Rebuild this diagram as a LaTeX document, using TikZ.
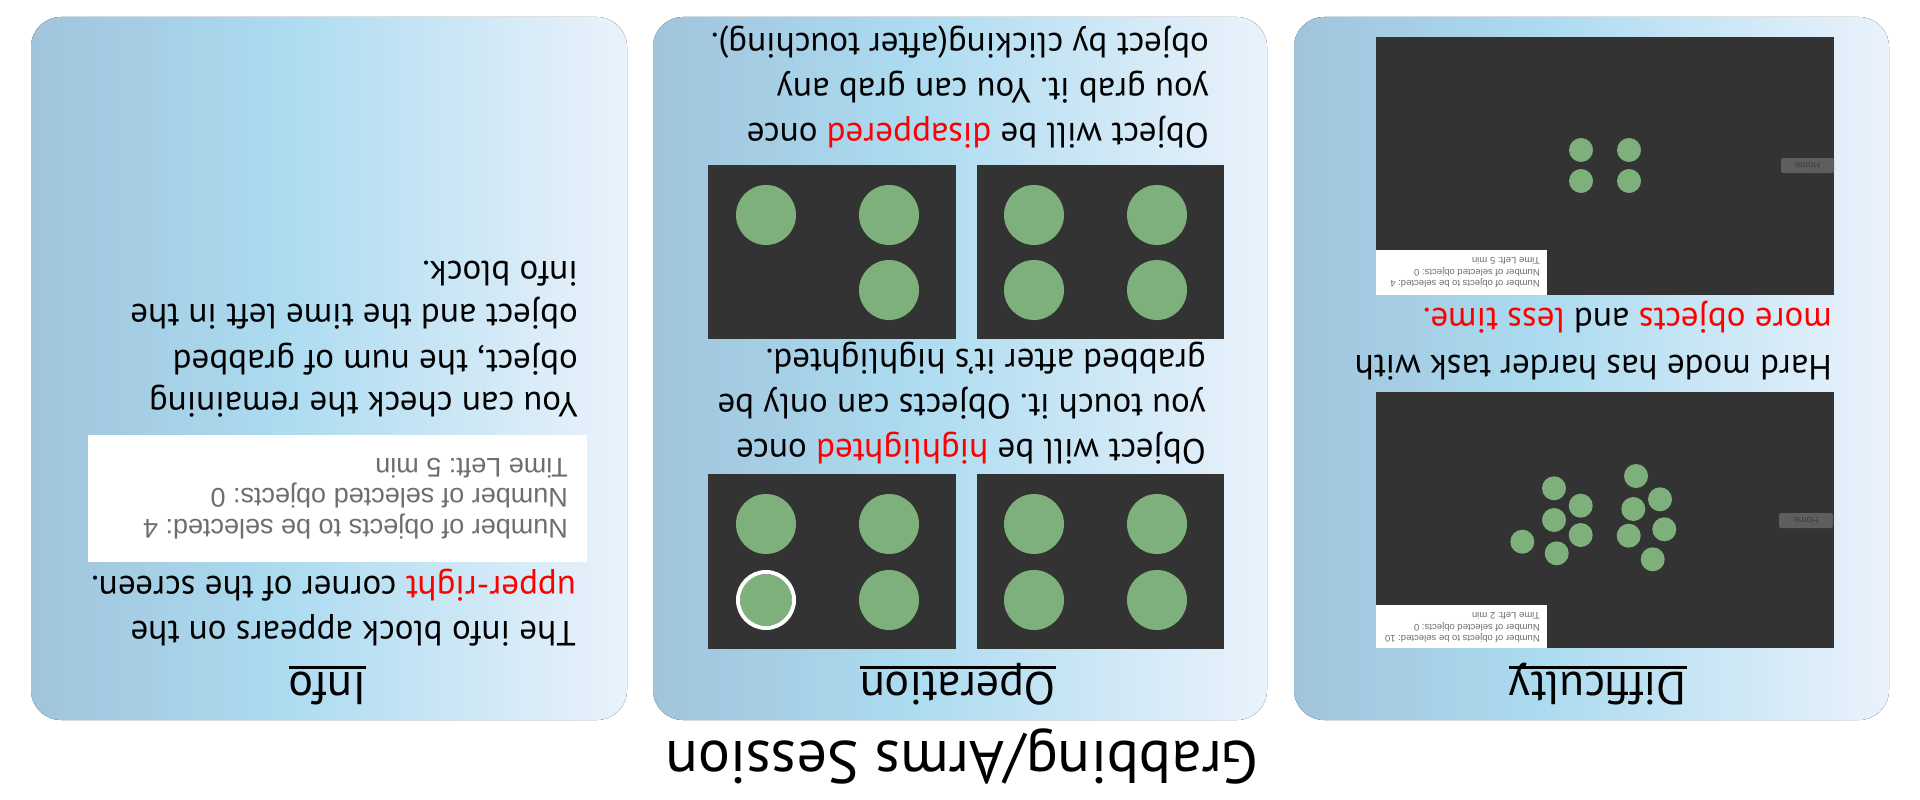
\documentclass[tikz,border=0pt]{standalone}
\usepackage{fontspec}
\setmainfont{PT Sans}
\newfontfamily\uifont{Liberation Sans}
\frenchspacing

\definecolor{panelL}{HTML}{A0C4DC}
\definecolor{panelM}{HTML}{ACDBF0}
\definecolor{panelR}{HTML}{EAF2FB}
\definecolor{scrgrey}{HTML}{333333}
\definecolor{dotgreen}{HTML}{7DB07A}
\definecolor{infogrey}{HTML}{6E6E6E}
\definecolor{btngrey}{HTML}{5E5E5E}
\definecolor{hl}{HTML}{FF0000}

\pgfdeclarehorizontalshading{panelshade}{100bp}{color(0bp)=(panelL); color(25bp)=(panelL); color(46bp)=(panelM); color(75bp)=(panelR); color(100bp)=(panelR)}

\begin{document}
\begin{tikzpicture}[x=1pt,y=-1pt]

\tikzset{panel/.style = {rounded corners=30pt, shading=panelshade}}
\tikzset{screen/.style = {fill=scrgrey}}
\tikzset{disc/.style = {fill=dotgreen}}
\tikzset{infobox/.style = {fill=white}}
\tikzset{homebtn/.style = {fill=btngrey, rounded corners=2pt}}
\tikzset{textline/.style = {rotate=180, anchor=base west, inner sep=0pt, font=\fontsize{35}{42}\selectfont}}
\tikzset{panelhead/.style = {rotate=180, anchor=base, inner sep=0pt, font=\fontsize{46}{55}\selectfont}}
\tikzset{uline/.style = {line width=2.5pt}}
\tikzset{infotext/.style = {rotate=180, anchor=base west, inner sep=0pt, text=infogrey, font=\uifont\fontsize{27}{32}\selectfont}}
\tikzset{smalltext/.style = {infotext, font=\uifont\fontsize{9.5}{11}\selectfont}}
\tikzset{hometext/.style = {rotate=180, inner sep=0pt, text=black!75, font=\uifont\fontsize{9.5}{11}\selectfont}}

\fill[white] (0,0) rectangle (1920,800);
\useasboundingbox (0,0) rectangle (1920,800);

% panels
\fill[panel] (31,17) rectangle (627,720);
\fill[panel] (653,17) rectangle (1267,720);
\fill[panel] (1294,17) rectangle (1889,720);

% title
\node[rotate=180, anchor=base, inner sep=0pt, font=\fontsize{60}{72}\selectfont] (title) at (962,741) {Grabbing/Arms Session};

% info panel
\node[panelhead] (infohead) at (327.6,672) {Info};
\draw[uline] ([yshift=4.5pt]infohead.base west) -- ([yshift=4.5pt]infohead.base east);
\node[textline] (info1) at (576,621.5) {The info block appears on the};
\node[textline] (info2) at (576,576.5) {\textcolor{hl}{upper-right} corner of the screen.};
\fill[infobox] (88,435) rectangle (587,562);
\node[infotext] (box1) at (568,519.5) {Number of objects to be selected: 4};
\node[infotext] (box2) at (568,488.5) {Number of selected objects: 0};
\node[infotext] (box3) at (568,458.5) {Time Left: 5 min};
\node[textline] (info3) at (578,392.5) {You can check the remaining};
\node[textline] (info4) at (578,350) {object, the num of grabbed};
\node[textline] (info5) at (578,304.5) {object and the time left in the};
\node[textline] (info6) at (578,261.5) {info block.};

% operation panel
\node[panelhead] (ophead) at (958,672) {Operation};
\draw[uline] ([yshift=4.5pt]ophead.base west) -- ([yshift=4.5pt]ophead.base east);

\fill[screen] (977,474) rectangle (1224,649);
\fill[disc] (1034,524) circle (30);
\fill[disc] (1157,524) circle (30);
\fill[disc] (1034,600) circle (30);
\fill[disc] (1157,600) circle (30);

\fill[screen] (708,474) rectangle (956,649);
\fill[disc] (766,524) circle (30);
\fill[disc] (889,524) circle (30);
\fill[disc] (766,600) circle (26);
\draw[white, line width=4pt] (766,600) circle (28);
\fill[disc] (889,600) circle (30);

\node[textline] (op4) at (1206,439) {Object will be \textcolor{hl}{highlighted} once};
\node[textline] (op5) at (1206,394.5) {you touch it. Objects can only be};
\node[textline] (op6) at (1206,349.5) {grabbed after it’s highlighted.};

\fill[screen] (977,165) rectangle (1224,339);
\fill[disc] (1034,215) circle (30);
\fill[disc] (1157,215) circle (30);
\fill[disc] (1034,290) circle (30);
\fill[disc] (1157,290) circle (30);

\fill[screen] (708,165) rectangle (956,339);
\fill[disc] (766,215) circle (30);
\fill[disc] (889,215) circle (30);
\fill[disc] (889,290) circle (30);

\node[textline] (op1) at (1209,123) {Object will be \textcolor{hl}{disappered} once};
\node[textline] (op2) at (1209,78.5) {you grab it. You can grab any};
\node[textline] (op3) at (1209,33.5) {object by clicking(after touching).};

% difficulty panel
\node[panelhead] (diffhead) at (1598,672) {Difficulty};
\draw[uline] ([yshift=4.5pt]diffhead.base west) -- ([yshift=4.5pt]diffhead.base east);

\fill[screen] (1376,392) rectangle (1834,648);
\fill[infobox] (1376,605) rectangle (1547,648);
\node[smalltext] (hard1) at (1540,635.7) {Number of objects to be selected: 10};
\node[smalltext] (hard2) at (1540,624.7) {Number of selected objects: 0};
\node[smalltext] (hard3) at (1540,612.4) {Time Left: 2 min};
\fill[homebtn] (1779,513) rectangle (1833,528);
\node[hometext] (home2) at (1806,520.5) {Home};
\fill[disc] (1522.3,541.7) circle (12);
\fill[disc] (1554,488.3) circle (12);
\fill[disc] (1554,520) circle (12);
\fill[disc] (1556.7,553.3) circle (12);
\fill[disc] (1580.7,505.7) circle (12);
\fill[disc] (1580.7,535) circle (12);
\fill[disc] (1636,476) circle (12);
\fill[disc] (1660,499.3) circle (12);
\fill[disc] (1633.3,509) circle (12);
\fill[disc] (1628.7,535.7) circle (12);
\fill[disc] (1664.3,529.3) circle (12);
\fill[disc] (1652.7,559.3) circle (12);

\node[textline] (diff1) at (1832,355) {Hard mode has harder task with};
\node[textline] (diff2) at (1832,308.5) {\textcolor{hl}{more objects} and \textcolor{hl}{less time.}};

\fill[screen] (1376,37) rectangle (1834,295);
\fill[infobox] (1376,250) rectangle (1547,295);
\node[smalltext] (easy1) at (1540,280.7) {Number of objects to be selected: 4};
\node[smalltext] (easy2) at (1540,269.4) {Number of selected objects: 0};
\node[smalltext] (easy3) at (1540,257.4) {Time Left: 5 min};
\fill[homebtn] (1781,158) rectangle (1834,173);
\node[hometext] (home1) at (1807.5,165.5) {Home};
\fill[disc] (1581,150) circle (12);
\fill[disc] (1629,150) circle (12);
\fill[disc] (1581,181) circle (12);
\fill[disc] (1629,181) circle (12);

\end{tikzpicture}
\end{document}
